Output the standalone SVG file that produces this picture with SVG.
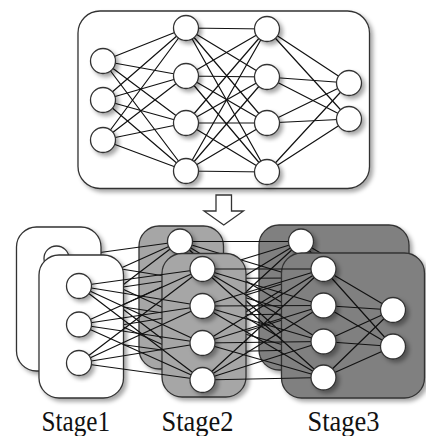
<svg xmlns="http://www.w3.org/2000/svg" xmlns:xlink="http://www.w3.org/1999/xlink" width="426" height="436" viewBox="0 0 426 436">
  <defs>
    <filter id="shadow" x="-20%" y="-20%" width="150%" height="150%">
      <feDropShadow dx="3" dy="3" stdDeviation="2" flood-color="#000" flood-opacity="0.35"/>
    </filter>
    <style>
      .link { fill: none; stroke: #111; stroke-width: 1.2; }
      .node { fill: #fff; stroke: #333; stroke-width: 1.3; filter: url(#shadow); }
      .panel { stroke: #333; stroke-width: 1.3; filter: url(#shadow); }
      .white { fill: #fff; }
      .mid { fill: #a6a6a6; }
      .dark { fill: #808080; }
      .arrow { fill: #fff; stroke: #333; stroke-width: 1.3; }
      .label { font-family: "Liberation Serif", "Times New Roman", serif; font-size: 29px; fill: #111; }
    </style>

    <!-- links of one staged copy of the network -->
    <g id="stage-links" class="link">
      <path d="M79 286L202.5 269M79 286L202.5 306M79 286L202.5 343M79 286L202.5 380"/>
      <path d="M79 324.5L202.5 269M79 324.5L202.5 306M79 324.5L202.5 343M79 324.5L202.5 380"/>
      <path d="M79 363L202.5 269M79 363L202.5 306M79 363L202.5 343M79 363L202.5 380"/>
      <path d="M202.5 269L323.5 269M202.5 269L323.5 305.5M202.5 269L323.5 341.5M202.5 269L323.5 377.5"/>
      <path d="M202.5 306L323.5 269M202.5 306L323.5 305.5M202.5 306L323.5 341.5M202.5 306L323.5 377.5"/>
      <path d="M202.5 343L323.5 269M202.5 343L323.5 305.5M202.5 343L323.5 341.5M202.5 343L323.5 377.5"/>
      <path d="M202.5 380L323.5 269M202.5 380L323.5 305.5M202.5 380L323.5 341.5M202.5 380L323.5 377.5"/>
      <path d="M323.5 269L393 310M323.5 269L393 346.5"/>
      <path d="M323.5 305.5L393 310M323.5 305.5L393 346.5"/>
      <path d="M323.5 341.5L393 310M323.5 341.5L393 346.5"/>
      <path d="M323.5 377.5L393 310M323.5 377.5L393 346.5"/>
    </g>

    <!-- nodes of one staged copy of the network -->
    <g id="stage-nodes">
      <g id="s1-n1"><circle class="node" cx="79" cy="286" r="12.5"/></g>
      <g id="s1-n2"><circle class="node" cx="79" cy="324.5" r="12.5"/></g>
      <g id="s1-n3"><circle class="node" cx="79" cy="363" r="12.5"/></g>
      <g id="s2-n1"><circle class="node" cx="202.5" cy="269" r="12.5"/></g>
      <g id="s2-n2"><circle class="node" cx="202.5" cy="306" r="12.5"/></g>
      <g id="s2-n3"><circle class="node" cx="202.5" cy="343" r="12.5"/></g>
      <g id="s2-n4"><circle class="node" cx="202.5" cy="380" r="12.5"/></g>
      <g id="s3-n1"><circle class="node" cx="323.5" cy="269" r="12.5"/></g>
      <g id="s3-n2"><circle class="node" cx="323.5" cy="305.5" r="12.5"/></g>
      <g id="s3-n3"><circle class="node" cx="323.5" cy="341.5" r="12.5"/></g>
      <g id="s3-n4"><circle class="node" cx="323.5" cy="377.5" r="12.5"/></g>
      <g id="s3-o1"><circle class="node" cx="393" cy="310" r="12.5"/></g>
      <g id="s3-o2"><circle class="node" cx="393" cy="346.5" r="12.5"/></g>
    </g>
  </defs>

  <!-- full network -->
  <g id="full-panel"><rect class="panel white" x="78" y="11" width="291.5" height="177.5" rx="22"/></g>

  <g id="full-links" class="link">
    <path d="M103 61L186 28M103 61L186 76M103 61L186 123M103 61L186 171"/>
    <path d="M103 100L186 28M103 100L186 76M103 100L186 123M103 100L186 171"/>
    <path d="M103 140L186 28M103 140L186 76M103 140L186 123M103 140L186 171"/>
    <path d="M186 28L267 29M186 28L267 77M186 28L267 123M186 28L267 172"/>
    <path d="M186 76L267 29M186 76L267 77M186 76L267 123M186 76L267 172"/>
    <path d="M186 123L267 29M186 123L267 77M186 123L267 123M186 123L267 172"/>
    <path d="M186 171L267 29M186 171L267 77M186 171L267 123M186 171L267 172"/>
    <path d="M267 29L349 83M267 29L349 119"/>
    <path d="M267 77L349 83M267 77L349 119"/>
    <path d="M267 123L349 83M267 123L349 119"/>
    <path d="M267 172L349 83M267 172L349 119"/>
  </g>

  <g id="full-in1"><circle class="node" cx="103" cy="61" r="12.5"/></g>
  <g id="full-in2"><circle class="node" cx="103" cy="100" r="12.5"/></g>
  <g id="full-in3"><circle class="node" cx="103" cy="140" r="12.5"/></g>
  <g id="full-h1a"><circle class="node" cx="186" cy="28" r="12.5"/></g>
  <g id="full-h1b"><circle class="node" cx="186" cy="76" r="12.5"/></g>
  <g id="full-h1c"><circle class="node" cx="186" cy="123" r="12.5"/></g>
  <g id="full-h1d"><circle class="node" cx="186" cy="171" r="12.5"/></g>
  <g id="full-h2a"><circle class="node" cx="267" cy="29" r="12.5"/></g>
  <g id="full-h2b"><circle class="node" cx="267" cy="77" r="12.5"/></g>
  <g id="full-h2c"><circle class="node" cx="267" cy="123" r="12.5"/></g>
  <g id="full-h2d"><circle class="node" cx="267" cy="172" r="12.5"/></g>
  <g id="full-out1"><circle class="node" cx="349" cy="83" r="12.5"/></g>
  <g id="full-out2"><circle class="node" cx="349" cy="119" r="12.5"/></g>

  <!-- split arrow -->
  <g id="split-arrow">
    <polygon class="arrow" points="216,195 231.5,195 231.5,211 243.5,211 223.75,225 204,211 216,211"/>
  </g>

  <!-- rear copy of the staged network -->
  <g id="stage2-back"><rect class="panel mid" x="139" y="226" width="84.5" height="143" rx="20"/></g>
  <g id="stage3-back"><rect class="panel dark" x="259" y="225" width="150" height="145" rx="20"/></g>
  <g id="back-links"><use xlink:href="#stage-links" transform="translate(-22.5,-27.5)"/></g>
  <g id="stage1-back"><rect class="panel white" x="16.5" y="227" width="84.5" height="144" rx="20"/></g>
  <g id="back-nodes"><use xlink:href="#stage-nodes" transform="translate(-22.5,-27.5)"/></g>

  <!-- front copy of the staged network -->
  <g id="stage1-front"><rect class="panel white" x="39" y="255" width="84.5" height="143" rx="20"/></g>
  <g id="stage2-front"><rect class="panel mid" x="162" y="253.5" width="84" height="143.5" rx="20"/></g>
  <g id="stage3-front"><rect class="panel dark" x="281.5" y="253" width="143" height="145" rx="20"/></g>
  <g id="front-links"><use xlink:href="#stage-links"/></g>
  <g id="front-nodes"><use xlink:href="#stage-nodes"/></g>

  <!-- stage labels -->
  <text class="label" x="41.5" y="430.5" textLength="68.5" lengthAdjust="spacingAndGlyphs">Stage1</text>
  <text class="label" x="161.5" y="430.5" textLength="72" lengthAdjust="spacingAndGlyphs">Stage2</text>
  <text class="label" x="307.5" y="430.5" textLength="72" lengthAdjust="spacingAndGlyphs">Stage3</text>
</svg>
